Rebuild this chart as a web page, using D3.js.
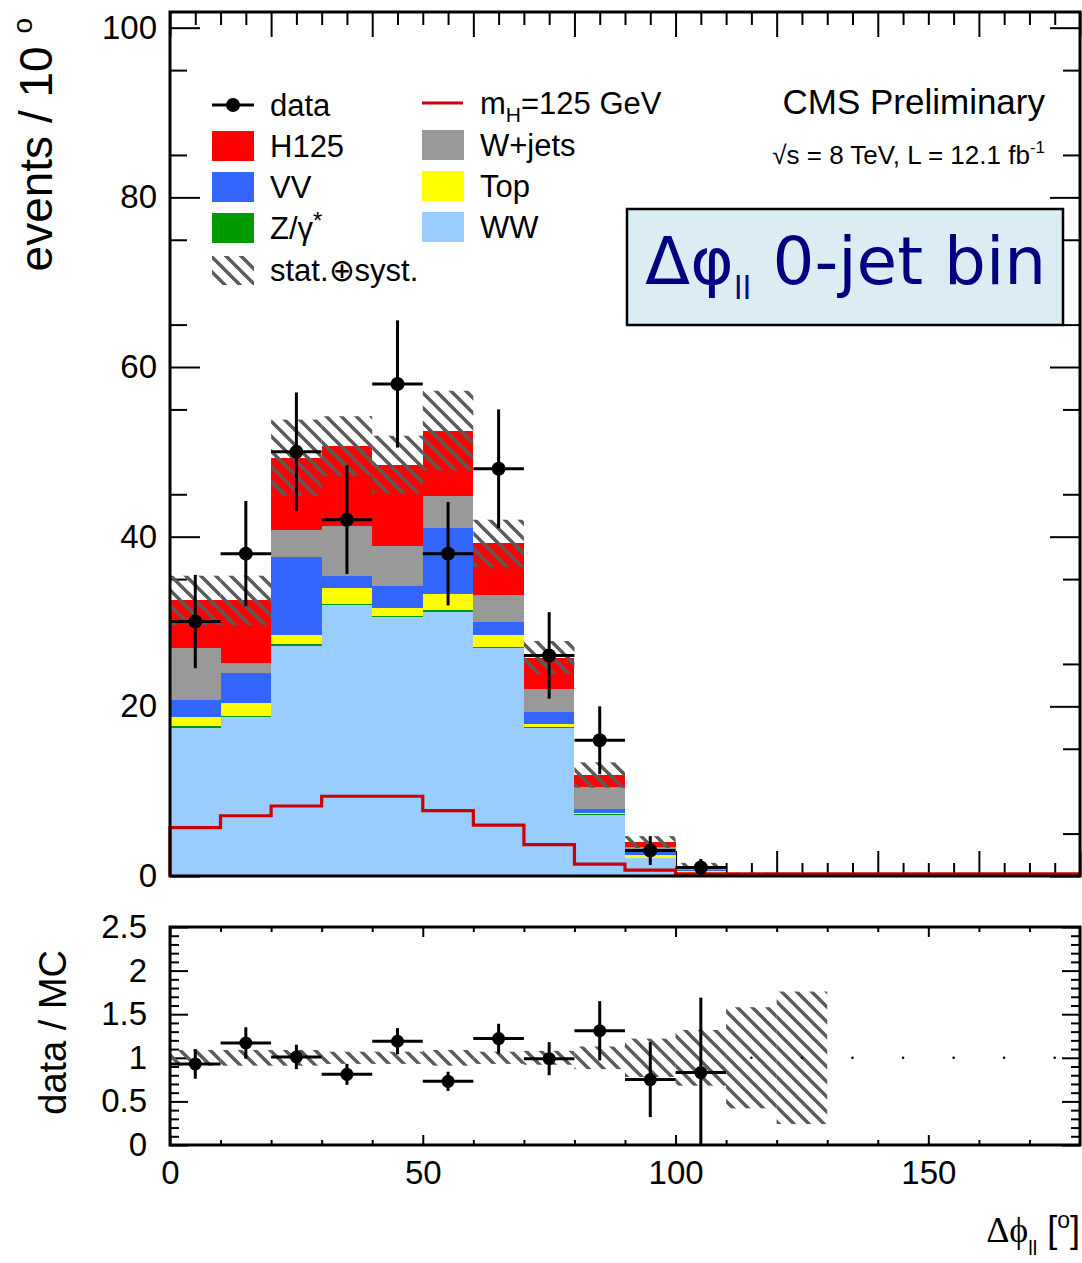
<!DOCTYPE html>
<html>
<head>
<meta charset="utf-8">
<script src="https://cdnjs.cloudflare.com/ajax/libs/d3/7.8.5/d3.min.js"></script>
<style>
  body { margin: 0; background: #fff; }
  svg text { font-family: "Liberation Sans", Arial, sans-serif; fill: #000; }
</style>
</head>
<body>
<div id="chart"></div>
<script>
// lower edge of each 10 degree bin
const binLow = [0, 10, 20, 30, 40, 50, 60, 70, 80, 90, 100, 110, 120, 130, 140, 150, 160, 170]

// stacked backgrounds, bottom to top
const ww    = [17.4, 18.8, 27.1, 32.0, 30.5, 31.1, 26.85, 17.5, 7.2, 2.1, 0.3, 0.1, 0.05, 0, 0, 0, 0, 0]
const zg    = [0.25, 0.1, 0.3, 0.1, 0.1, 0.2, 0.15, 0.1, 0.05, 0, 0, 0, 0, 0, 0, 0, 0, 0]
const topq  = [1.1, 1.5, 1.0, 1.9, 1.0, 2.0, 1.4, 0.3, 0.15, 0.4, 0.3, 0.05, 0.05, 0, 0, 0, 0, 0]
const vv    = [2.05, 3.5, 9.25, 1.4, 2.6, 7.7, 1.6, 1.4, 0.5, 0.4, 0.1, 0.02, 0, 0, 0, 0, 0, 0]
const wjets = [6.1, 1.2, 3.15, 5.8, 4.75, 3.8, 3.1, 2.7, 2.6, 0.5, 0.2, 0.05, 0, 0, 0, 0, 0, 0]
const h125  = [5.6, 7.4, 8.5, 9.5, 9.55, 7.7, 6.1, 3.75, 1.4, 0.6, 0.3, 0.03, 0, 0, 0, 0, 0, 0]
// stat+syst uncertainty on the total
const mcErr = [2.9, 2.9, 4.5, 3.5, 3.4, 4.7, 2.8, 1.95, 1.5, 0.7, 0.35, 0.15, 0.08, 0, 0, 0, 0, 0]
// mH=125 signal line
const signal = [5.7, 7.1, 8.25, 9.4, 9.4, 7.7, 6.0, 3.7, 1.4, 0.7, 0.25, 0.25, 0.25, 0.25, 0.25, 0.25, 0.25, 0.25]

// data (first 11 bins)
const dataVal = [30, 38, 50, 42, 58, 38, 48, 26, 16, 3, 1]
const dataErr = [5.5, 6.2, 7.0, 6.4, 7.5, 6.1, 7.0, 5.1, 4.0, 1.7, 1.0]

// ratio panel
const ratioVal = [0.93, 1.17, 1.01, 0.81, 1.19, 0.73, 1.22, 0.99, 1.31, 0.75, 0.83]
const ratioErr = [0.17, 0.18, 0.14, 0.12, 0.15, 0.11, 0.17, 0.19, 0.34, 0.43, 0.86]
const ratioBand = [0.09, 0.09, 0.09, 0.07, 0.07, 0.09, 0.07, 0.08, 0.13, 0.22, 0.32, 0.58, 0.76]
const emptyBinCenters = [115, 125, 135, 145, 155, 165, 175]

const yTicks = [0, 20, 40, 60, 80, 100]
const ratioTicks = [0, 0.5, 1, 1.5, 2, 2.5]
const xTicks = [0, 50, 100, 150]

const keys = ["WW", "Z", "Top", "VV", "Wjets", "H125"]
const colors = { WW: "#99ccff", Z: "#009900", Top: "#ffff00", VV: "#3366ff", Wjets: "#999999", H125: "#ff0000" }

const width = 1082, height = 1263
const left = 170, right = 1080
const mainTop = 12, mainBottom = 876
const ratioTop = 927, ratioBottom = 1145

let svg = d3.select("#chart")
    .append("svg")
    .attr("width", width)
    .attr("height", height)

svg.append("rect").attr("width", width).attr("height", height).attr("fill", "#fff")

let defs = svg.append("defs")
let pat = defs.append("pattern")
    .attr("id", "hatch")
    .attr("patternUnits", "userSpaceOnUse")
    .attr("width", 15).attr("height", 15)
pat.append("path")
    .attr("d", "M-2,-2 L17,17 M-2,13 L2,17 M13,-2 L17,2")
    .attr("stroke", "#5a5a5a")
    .attr("stroke-width", 3.4)
defs.append("clipPath").attr("id", "ratioClip")
    .append("rect").attr("x", left).attr("y", ratioTop).attr("width", right - left).attr("height", ratioBottom - ratioTop)

const x = d3.scaleLinear().domain([0, 180]).range([left, right])
const y = d3.scaleLinear().domain([0, 101.85]).range([mainBottom, mainTop])
const yr = d3.scaleLinear().domain([0, 2.5]).range([ratioBottom, ratioTop])

function tickStyle(g) {
    g.select(".domain").remove()
    g.selectAll(".tick line").attr("stroke", "#000").attr("stroke-width", 2)
    g.selectAll(".tick text").style("font-size", "33px").attr("fill", "#000")
}

// ---------- main panel axes (ticks go inside) ----------
let axes = svg.append("g")
axes.append("g").attr("transform", `translate(${left},0)`)
    .call(d3.axisLeft(y).tickValues(yTicks).tickSize(-30).tickPadding(13).tickFormat(d3.format("d")))
    .call(tickStyle)
axes.append("g").attr("transform", `translate(${left},0)`)
    .call(d3.axisLeft(y).tickValues(d3.range(5, 100, 10)).tickSize(-17).tickFormat(""))
    .call(tickStyle)
axes.append("g").attr("transform", `translate(${right},0)`)
    .call(d3.axisRight(y).tickValues(yTicks).tickSize(-30).tickFormat(""))
    .call(tickStyle)
axes.append("g").attr("transform", `translate(${right},0)`)
    .call(d3.axisRight(y).tickValues(d3.range(5, 100, 10)).tickSize(-17).tickFormat(""))
    .call(tickStyle)
;[[mainTop, d3.axisTop], [mainBottom, d3.axisBottom]].forEach(([yy, ax]) => {
    axes.append("g").attr("transform", `translate(0,${yy})`)
        .call(ax(x).tickValues(d3.range(0, 181, 20)).tickSize(-25).tickFormat(""))
        .call(tickStyle)
    axes.append("g").attr("transform", `translate(0,${yy})`)
        .call(ax(x).tickValues(d3.range(5, 180, 5).filter(d => d % 20 != 0)).tickSize(-13).tickFormat(""))
        .call(tickStyle)
})

// ---------- stacked histogram ----------
let rows = binLow.map((lo, i) => ({
    lo: lo, WW: ww[i], Z: zg[i], Top: topq[i], VV: vv[i], Wjets: wjets[i], H125: h125[i]
}))
let series = d3.stack().keys(keys)(rows)

let stack = svg.append("g").attr("shape-rendering", "crispEdges")
stack.selectAll("g")
    .data(series)
    .enter()
    .append("g")
    .attr("fill", d => colors[d.key])
    .selectAll("rect")
    .data(d => d)
    .enter()
    .append("rect")
    .attr("x", d => x(d.data.lo))
    .attr("width", d => x(d.data.lo + 10) - x(d.data.lo))
    .attr("y", d => y(d[1]))
    .attr("height", d => y(d[0]) - y(d[1]))

// total uncertainty hatch
let totals = series[series.length - 1].map(d => d[1])
svg.append("g").selectAll("rect")
    .data(binLow.filter((lo, i) => mcErr[i] > 0))
    .enter()
    .append("rect")
    .attr("x", lo => x(lo))
    .attr("width", lo => x(lo + 10) - x(lo))
    .attr("y", lo => y(totals[lo / 10] + mcErr[lo / 10]))
    .attr("height", lo => y(totals[lo / 10] - mcErr[lo / 10]) - y(totals[lo / 10] + mcErr[lo / 10]))
    .attr("fill", "url(#hatch)")

// signal step line
let sigPts = [[0, 0]]
binLow.forEach((lo, i) => { sigPts.push([lo, signal[i]]); sigPts.push([lo + 10, signal[i]]) })
svg.append("path")
    .datum(sigPts)
    .attr("d", d3.line().x(d => x(d[0])).y(d => y(d[1])))
    .attr("fill", "none")
    .attr("stroke", "#cc0000")
    .attr("stroke-width", 3.2)

// data points
let pts = svg.append("g")
dataVal.forEach((v, i) => {
    let lo = binLow[i]
    pts.append("line").attr("x1", x(lo)).attr("x2", x(lo + 10)).attr("y1", y(v)).attr("y2", y(v))
        .attr("stroke", "#000").attr("stroke-width", 3)
    pts.append("line").attr("x1", x(lo + 5)).attr("x2", x(lo + 5))
        .attr("y1", y(v - dataErr[i])).attr("y2", y(v + dataErr[i]))
        .attr("stroke", "#000").attr("stroke-width", 3)
    pts.append("circle").attr("cx", x(lo + 5)).attr("cy", y(v)).attr("r", 7).attr("fill", "#000")
})

svg.append("rect")
    .attr("x", left).attr("y", mainTop)
    .attr("width", right - left).attr("height", mainBottom - mainTop)
    .attr("fill", "none").attr("stroke", "#000").attr("stroke-width", 3)

// y title
let yt = svg.append("text")
    .attr("transform", "translate(52,18) rotate(-90)")
    .attr("text-anchor", "end")
    .style("font-size", "46px")
    .text("events / 10 ")
yt.append("tspan").attr("dy", -20).style("font-size", "28px").text("o")

// ---------- legend ----------
const legRows = [105, 146, 187, 228, 270]
let leg = svg.append("g").style("font-size", "31px")
leg.append("line").attr("x1", 212).attr("x2", 254).attr("y1", legRows[0]).attr("y2", legRows[0])
    .attr("stroke", "#000").attr("stroke-width", 3)
leg.append("circle").attr("cx", 233).attr("cy", legRows[0]).attr("r", 7).attr("fill", "#000")
leg.append("text").attr("x", 270).attr("y", legRows[0] + 11).text("data")

let leftItems = [["H125", "H125"], ["VV", "VV"], ["Z", "Z/γ"]]
leftItems.forEach(([k, label], i) => {
    let cy = legRows[i + 1]
    leg.append("rect").attr("x", 212).attr("y", cy - 15).attr("width", 42).attr("height", 30).attr("fill", colors[k])
    let t = leg.append("text").attr("x", 270).attr("y", cy + 11).text(label)
    if (k == "Z") t.append("tspan").attr("dy", -10).style("font-size", "24px").text("*")
})
leg.append("rect").attr("x", 212).attr("y", legRows[4] - 14).attr("width", 42).attr("height", 29).attr("fill", "url(#hatch)")
leg.append("text").attr("x", 270).attr("y", legRows[4] + 11).text("stat.⊕syst.")

leg.append("line").attr("x1", 422).attr("x2", 463).attr("y1", legRows[0] - 2).attr("y2", legRows[0] - 2)
    .attr("stroke", "#cc0000").attr("stroke-width", 3.2)
let mh = leg.append("text").attr("x", 480).attr("y", legRows[0] + 9).text("m")
mh.append("tspan").attr("dy", 8).style("font-size", "21px").text("H")
mh.append("tspan").attr("dy", -8).text("=125 GeV")
let rightItems = [["Wjets", "W+jets"], ["Top", "Top"], ["WW", "WW"]]
rightItems.forEach(([k, label], i) => {
    let cy = legRows[i + 1] - 1
    leg.append("rect").attr("x", 422).attr("y", cy - 15).attr("width", 42).attr("height", 30).attr("fill", colors[k])
    leg.append("text").attr("x", 480).attr("y", cy + 11).text(label)
})

// CMS label
svg.append("text").attr("x", 1045).attr("y", 114).attr("text-anchor", "end")
    .style("font-size", "35px").text("CMS Preliminary")
let lumi = svg.append("text").attr("x", 1045).attr("y", 164).attr("text-anchor", "end").style("font-size", "26px")
lumi.append("tspan").text("√s = 8 TeV, L = 12.1 fb")
lumi.append("tspan").attr("dy", -11).style("font-size", "17px").text("-1")

// box label
svg.append("rect").attr("x", 627).attr("y", 209).attr("width", 436).attr("height", 116)
    .attr("fill", "#daedf3").attr("stroke", "#000").attr("stroke-width", 2.5)
let boxText = svg.append("text").attr("x", 645).attr("y", 284)
    .style("font-family", "'DejaVu Sans', sans-serif").style("font-size", "66px").attr("fill", "#000080")
boxText.append("tspan").attr("fill", "#000080").text("Δφ")
boxText.append("tspan").attr("dy", 15).attr("fill", "#000080").style("font-size", "32px").text("ll")
boxText.append("tspan").attr("dy", -15).attr("fill", "#000080").text(" 0-jet bin")

// ---------- ratio panel ----------
let rax = svg.append("g")
rax.append("g").attr("transform", `translate(${left},0)`)
    .call(d3.axisLeft(yr).tickValues(ratioTicks).tickSize(-18).tickPadding(23).tickFormat(d => String(d)))
    .call(tickStyle)
rax.append("g").attr("transform", `translate(${left},0)`)
    .call(d3.axisLeft(yr).tickValues(d3.range(1, 25).filter(d => d % 5 != 0).map(d => d / 10)).tickSize(-9).tickFormat(""))
    .call(tickStyle)
rax.append("g").attr("transform", `translate(${right},0)`)
    .call(d3.axisRight(yr).tickValues(ratioTicks).tickSize(-18).tickFormat(""))
    .call(tickStyle)
rax.append("g").attr("transform", `translate(${right},0)`)
    .call(d3.axisRight(yr).tickValues(d3.range(1, 25).filter(d => d % 5 != 0).map(d => d / 10)).tickSize(-9).tickFormat(""))
    .call(tickStyle)
rax.append("g").attr("transform", `translate(0,${ratioBottom})`)
    .call(d3.axisBottom(x).tickValues(xTicks).tickSize(-10).tickPadding(16).tickFormat(d3.format("d")))
    .call(tickStyle)
rax.append("g").attr("transform", `translate(0,${ratioBottom})`)
    .call(d3.axisBottom(x).tickValues(d3.range(10, 180, 10).filter(d => d % 50 != 0)).tickSize(-5).tickFormat(""))
    .call(tickStyle)
rax.append("g").attr("transform", `translate(0,${ratioTop})`)
    .call(d3.axisTop(x).tickValues(xTicks).tickSize(-10).tickFormat(""))
    .call(tickStyle)
rax.append("g").attr("transform", `translate(0,${ratioTop})`)
    .call(d3.axisTop(x).tickValues(d3.range(10, 180, 10).filter(d => d % 50 != 0)).tickSize(-5).tickFormat(""))
    .call(tickStyle)

let rg = svg.append("g").attr("clip-path", "url(#ratioClip)")
rg.selectAll("rect.band")
    .data(ratioBand)
    .enter()
    .append("rect")
    .attr("x", (e, i) => x(binLow[i]))
    .attr("width", (e, i) => x(binLow[i] + 10) - x(binLow[i]))
    .attr("y", e => yr(1 + e))
    .attr("height", e => yr(1 - e) - yr(1 + e))
    .attr("fill", "url(#hatch)")

ratioVal.forEach((r, i) => {
    let lo = binLow[i]
    rg.append("line").attr("x1", x(lo)).attr("x2", x(lo + 10)).attr("y1", yr(r)).attr("y2", yr(r))
        .attr("stroke", "#000").attr("stroke-width", 3)
    rg.append("line").attr("x1", x(lo + 5)).attr("x2", x(lo + 5))
        .attr("y1", yr(r - ratioErr[i])).attr("y2", yr(r + ratioErr[i]))
        .attr("stroke", "#000").attr("stroke-width", 3)
    rg.append("circle").attr("cx", x(lo + 5)).attr("cy", yr(r)).attr("r", 6.5).attr("fill", "#000")
})
// empty bins show as tiny dots at 1
rg.selectAll("circle.empty")
    .data(emptyBinCenters)
    .enter()
    .append("circle")
    .attr("cx", d => x(d)).attr("cy", yr(1)).attr("r", 1.3).attr("fill", "#000")

svg.append("rect")
    .attr("x", left).attr("y", ratioTop)
    .attr("width", right - left).attr("height", ratioBottom - ratioTop)
    .attr("fill", "none").attr("stroke", "#000").attr("stroke-width", 3)

svg.append("text")
    .attr("transform", "translate(66,950) rotate(-90)")
    .attr("text-anchor", "end")
    .style("font-size", "38px")
    .text("data / MC")

// x title
let xt = svg.append("text").attr("x", 1080).attr("y", 1242).attr("text-anchor", "end").style("font-size", "36px")
xt.append("tspan").style("font-family", "'Liberation Serif', serif").text("Δϕ")
xt.append("tspan").attr("dy", 13).style("font-size", "20px").text("ll")
xt.append("tspan").attr("dy", -13).text(" [")
xt.append("tspan").attr("dy", -14).style("font-size", "23px").text("o")
xt.append("tspan").attr("dy", 14).text("]")
</script>
</body>
</html>
